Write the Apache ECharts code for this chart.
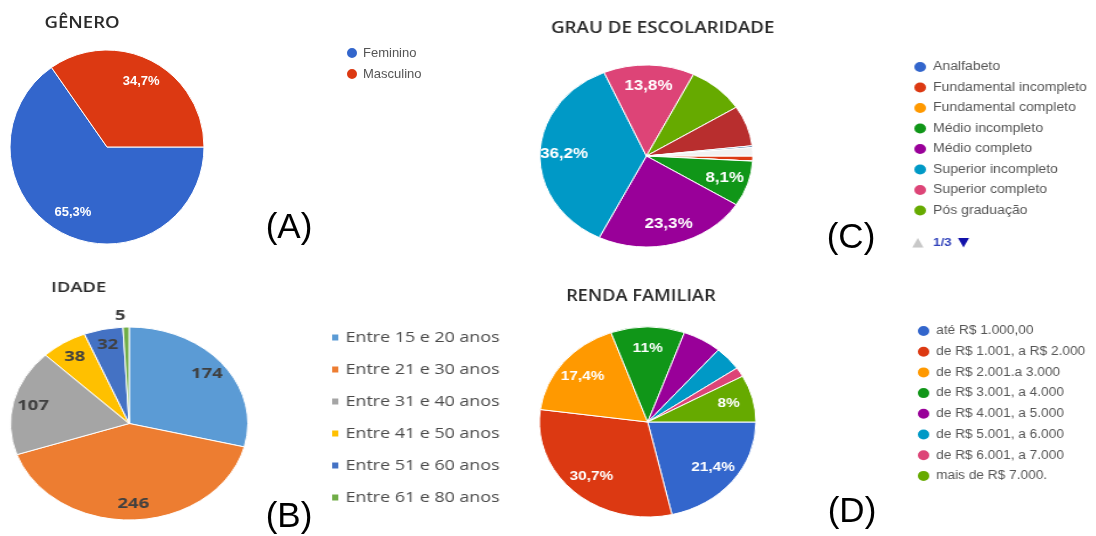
<!DOCTYPE html>
<html>
<head>
<meta charset="utf-8">
<script src="https://cdn.jsdelivr.net/npm/echarts@6/dist/echarts.min.js"></script>
<style>
  html, body { margin: 0; background: #fff; }
  #page { position: relative; width: 1096px; height: 536px; overflow: hidden; }
  .painel { position: absolute; transform-origin: 0 0; }
</style>
</head>
<body>
<div id="page">
  <div id="a" class="painel" style="left:0;top:0;width:1096px;height:536px"></div>
  <div id="b" class="painel" style="left:0;top:270px;width:420px;height:266px;transform:scaleX(1.23)"></div>
  <div id="c" class="painel" style="left:520px;top:0;width:500px;height:270px;transform:scaleX(1.17)"></div>
  <div id="d" class="painel" style="left:520px;top:270px;width:520px;height:266px;transform:scaleX(1.14)"></div>
</div>
<script>
// (A) gênero
const generoNomes = ["Feminino", "Masculino"];
const generoValores = [65.3, 34.7];
const generoRotulos = ["65,3%", "34,7%"];

// (B) idade, contagens
const idadeNomes = ["Entre 15 e 20 anos", "Entre 21 e 30 anos", "Entre 31 e 40 anos", "Entre 41 e 50 anos", "Entre 51 e 60 anos", "Entre 61 e 80 anos"];
const idadeValores = [174, 246, 107, 38, 32, 5];

// (C) escolaridade, só a 1a página da legenda aparece
const escolaridadeNomes = ["Analfabeto", "Fundamental incompleto", "Fundamental completo", "Médio incompleto", "Médio completo", "Superior incompleto", "Superior completo", "Pós graduação", "Mestrado", "Doutorado", "Outros"];
const escolaridadeValores = [0, 0.9, 0, 8.1, 23.3, 36.2, 13.8, 8.7, 7.2, 0.3, 1.5];
const escolaridadeRotulos = ["", "", "", "8,1%", "23,3%", "36,2%", "13,8%", "", "", "", ""];
const escolaridadeLegenda = escolaridadeNomes.slice(0, 8);
const escolaridadePagina = "1/3";

// (D) renda familiar
const rendaNomes = ["até R$ 1.000,00", "de R$ 1.001, a R$ 2.000", "de R$ 2.001.a 3.000", "de R$ 3.001, a 4.000", "de R$ 4.001, a 5.000", "de R$ 5.001, a 6.000", "de R$ 6.001, a 7.000", "mais de R$ 7.000."];
const rendaValores = [21.4, 30.7, 17.4, 11, 5.8, 4.1, 1.6, 8];
const rendaRotulos = ["21,4%", "30,7%", "17,4%", "11%", "", "", "", "8%"];

const letras = ["(A)", "(B)", "(C)", "(D)"];

const googleCores = ["#3366cc", "#dc3912", "#ff9900", "#109618", "#990099", "#0099c6", "#dd4477", "#66aa00", "#b82e2e", "#316395", "#f2f2f2"];
const excelCores = ["#5b9bd5", "#ed7d31", "#a5a5a5", "#ffc000", "#4472c4", "#70ad47"];

const fatias = (nomes, valores) => nomes.map((name, i) => ({ name, value: valores[i] }));

// two rings: the visible pie, and a transparent ring that only carries the labels further out
function pizza(dados, centro, raio, inicio, interno, rotulo) {
  const base = { type: "pie", center: centro, startAngle: inicio, data: dados, emphasis: { disabled: true }, labelLine: { show: false } };
  return [
    { ...base, radius: raio, itemStyle: { borderColor: "#fff", borderWidth: 1 }, label: { show: false } },
    { ...base, radius: [raio * interno, raio], silent: true, avoidLabelOverlap: false, itemStyle: { color: "transparent" }, label: { position: "inside", ...rotulo } },
  ];
}

const texto = (text, x, y, font, fill, sx = 1, align = "center") => ({
  type: "text", x, y, scaleX: sx, silent: true,
  style: { text, font, fill, align, verticalAlign: "middle", textAlign: align, textVerticalAlign: "middle" },
});
const titulo = (text, x, y, size = 16, sx = 1) => texto(text, x, y, `600 ${size}px "Open Sans"`, "#2b2b2b", sx);

const legendaGoogle = (left, top, data, size = 12, gap = 6.5) => ({
  orient: "vertical", left, top, icon: "circle", itemWidth: 12, itemHeight: 12, itemGap: gap, selectedMode: false, data,
  textStyle: { fontFamily: "Liberation Sans", fontSize: size, color: "#555" },
});
const rotuloGoogle = (rotulos, size) => ({ formatter: p => rotulos[p.dataIndex], color: "#fff", fontWeight: "bold", fontFamily: "Liberation Sans", fontSize: size });

const letraPos = [[289, 228], [289, 517], [851, 238], [852, 512]];

echarts.init(document.getElementById("a")).setOption({
  animation: false,
  color: googleCores,
  legend: legendaGoogle(340, 41, generoNomes, 13, 7),
  graphic: [
    titulo("GÊNERO", 82, 23, 16, 1.16),
    ...letras.map((t, i) => texto(t, letraPos[i][0], letraPos[i][1], '35px "Liberation Sans"', "#000")),
  ],
  series: pizza(fatias(generoNomes, generoValores), [107, 147], 97, 0, 0.46, rotuloGoogle(generoRotulos, 13)),
});

const total = idadeValores.reduce((s, v) => s + v, 0);
const dadosIdade = fatias(idadeNomes, idadeValores).map(d =>
  d.value / total < 0.02 ? { ...d, label: { position: "outside", distanceToLabelLine: 0 }, labelLine: { show: false, length: 11, length2: 0 } } : d);

echarts.init(document.getElementById("b")).setOption({
  animation: false,
  color: excelCores,
  legend: {
    orient: "vertical", left: 263, top: 55, icon: "rect", itemWidth: 7, itemHeight: 8, itemGap: 17, selectedMode: false, data: idadeNomes,
    textStyle: { fontFamily: "Open Sans", fontSize: 14.5, color: "#4a4a4a" },
  },
  graphic: [titulo("IDADE", 64, 18, 15)],
  series: pizza(dadosIdade, [105, 153.5], 96.5, 90, 0.6, { formatter: "{c}", color: "#404040", fontWeight: "bold", fontFamily: "Open Sans", fontSize: 15 }),
});

echarts.init(document.getElementById("c")).setOption({
  animation: false,
  color: googleCores,
  legend: legendaGoogle(330, 55, escolaridadeLegenda),
  graphic: [
    titulo("GRAU DE ESCOLARIDADE", 122, 28),
    texto("▲", 340, 243, '12.5px "DejaVu Sans"', "#c8c8c8"),
    texto(escolaridadePagina, 353, 243, 'bold 11.5px "Liberation Sans"', "#3344bb", 1, "left"),
    texto("▼", 379, 243, '12.5px "DejaVu Sans"', "#1111aa"),
  ],
  series: pizza(fatias(escolaridadeNomes, escolaridadeValores), [108, 156], 91, 0, 0.48, rotuloGoogle(escolaridadeRotulos, 14.5)),
});

echarts.init(document.getElementById("d")).setOption({
  animation: false,
  color: googleCores,
  legend: legendaGoogle(342, 49, rendaNomes, 12, 6.7),
  graphic: [titulo("RENDA FAMILIAR", 106, 26)],
  series: pizza(fatias(rendaNomes, rendaValores), [112, 152], 95, 0, 0.48, rotuloGoogle(rendaRotulos, 13.5)),
});
</script>
</body>
</html>
